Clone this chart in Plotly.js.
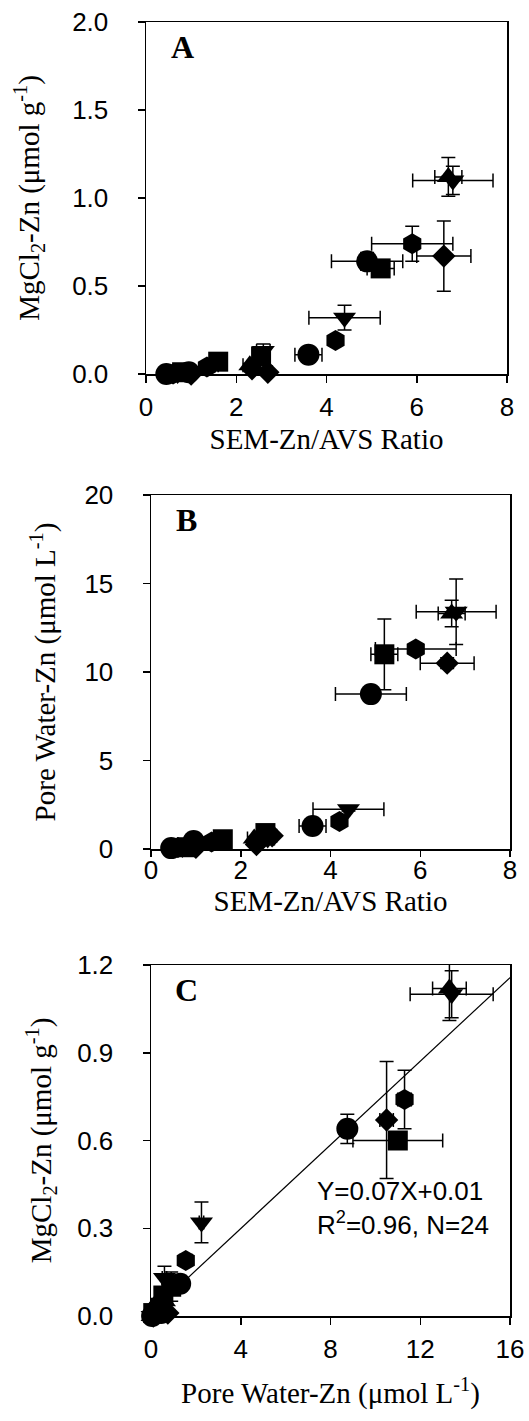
<!DOCTYPE html>
<html><head><meta charset="utf-8">
<script src="https://cdn.plot.ly/plotly-3.0.1.min.js"></script>
<style>html,body{margin:0;padding:0;background:#fff;} #chart{width:529px;height:1421px;}</style>
</head><body><div id="chart"></div>
<script>
// ---- data (one entry per sample, N = 24) ----
const symbolOf = ['circle','circle','circle','circle',
  'hexagon','hexagon','hexagon','hexagon',
  'square','square','square','square',
  'triangle-down','triangle-down','triangle-down','triangle-down',
  'triangle-up','triangle-up','triangle-up','triangle-up',
  'diamond','diamond','diamond','diamond'];
const semAvsRatio    = [0.45,0.95,3.6,4.9,  0.6,1.35,4.2,5.9,  0.8,1.6,2.55,5.2,  0.7,2.6,4.4,6.8,  0.55,1.5,2.3,6.7,  1.0,2.35,2.7,6.6];
const semAvsRatioErr = [0.05,0.08,0.3,0.79, 0.05,0.1,0.1,0.9,  0.05,0.1,0.1,0.3,  0.05,0.15,0.79,0.89, 0.05,0.1,0.15,0.3, 0.05,0.1,0.1,0.6];
const mgcl2Zn        = [0.0,0.01,0.11,0.64, 0.0,0.04,0.19,0.74, 0.01,0.07,0.10,0.60, 0.0,0.13,0.32,1.10, 0.0,0.05,0.05,1.12, 0.0,0.03,0.01,0.67];
const mgcl2ZnErr     = [0.005,0.005,0.01,0.05, 0.005,0.01,0.02,0.10, 0.005,0.02,0.05,0.02, 0.005,0.04,0.07,0.08, 0.005,0.01,0.01,0.11, 0.005,0.01,0.01,0.20];
const poreWaterZn    = [0.05,0.45,1.3,8.75, 0.08,0.4,1.55,11.3, 0.1,0.55,0.9,11.0, 0.05,0.6,2.25,13.4, 0.05,0.3,0.6,13.3, 0.1,0.25,0.75,10.5];
const poreWaterZnErr = [0.02,0.05,0.15,0.3, 0.02,0.05,0.15,0.3, 0.03,0.1,0.1,2.0, 0.02,0.1,0.1,1.85, 0.02,0.05,0.1,0.75, 0.02,0.05,0.1,0.3];
// regression (panel C)
const fitSlope = 0.0715, fitIntercept = 0.013;
const fitXRange = [0, 16];
const fitLabel1 = 'Y=0.07X+0.01';
const fitLabel2 = 'R<sup>2</sup>=0.96, N=24';
// tick values
const ratioTicks = [0,2,4,6,8];
const mgTicksA = [0,0.5,1,1.5,2];
const pwTicksB = [0,5,10,15,20];
const mgTicksC = [0,0.3,0.6,0.9,1.2];
const pwTicksC = [0,4,8,12,16];

// ---- style ----
const sizeBySymbol = {'circle':22,'hexagon':21,'square':20,'triangle-down':20,'triangle-up':20,'diamond':18};
const sizes = symbolOf.map(s => sizeBySymbol[s]);
const SERIF = 'Liberation Serif, Times New Roman, serif';
const SANS = 'Liberation Sans, Arial, sans-serif';
const W = 529, H = 1421;
const px = (a,b) => [a/W, b/W];
const py = (top,bottom) => [(H-bottom)/H, (H-top)/H];

function errBar(arr){ return {type:'data', array:arr, visible:true, color:'#000', thickness:1.5, width:7}; }
function scatter(x, xe, y, ye, xa, ya){
  return {type:'scatter', mode:'markers', x:x, y:y, xaxis:xa, yaxis:ya,
    error_x: errBar(xe), error_y: errBar(ye), cliponaxis:false,
    marker:{symbol:symbolOf, size:sizes, color:'#000', opacity:1, line:{width:0}}, showlegend:false, hoverinfo:'x+y'};
}
const traces = [
  scatter(semAvsRatio, semAvsRatioErr, mgcl2Zn, mgcl2ZnErr, 'x', 'y'),
  scatter(semAvsRatio, semAvsRatioErr, poreWaterZn, poreWaterZnErr, 'x2', 'y2'),
  {type:'scatter', mode:'lines', x:fitXRange, y:fitXRange.map(v => fitSlope*v + fitIntercept), xaxis:'x3', yaxis:'y3',
   line:{color:'#000', width:1.2}, showlegend:false, hoverinfo:'skip', cliponaxis:true},
  scatter(poreWaterZn, poreWaterZnErr, mgcl2Zn, mgcl2ZnErr, 'x3', 'y3')
];

function axis(extra){
  return Object.assign({showgrid:false, zeroline:false, showline:true, linecolor:'#000', linewidth:1.5,
    mirror:true, ticks:'outside', ticklen:7, tickwidth:1.5, tickcolor:'#000',
    tickfont:{family:SANS, size:26, color:'#000'}, fixedrange:true, automargin:false}, extra);
}
const titleFont = {family:SERIF, size:29, color:'#000'};
const yTickExtra = {ticklabelstandoff:24};

const layout = {
  width:W, height:H, margin:{l:0,r:0,t:0,b:0}, paper_bgcolor:'#fff', plot_bgcolor:'#fff', showlegend:false,
  xaxis: axis({domain:px(146,507), range:[0,8], tickvals:ratioTicks, anchor:'y', ticklabelstandoff:2,
    title:{text:'SEM-Zn/AVS Ratio', font:titleFont, standoff:8}}),
  yaxis: axis(Object.assign({domain:py(22,374), range:[0,2], tickvals:mgTicksA, tickformat:'.1f', anchor:'x',
    title:{text:'MgCl<sub>2</sub>-Zn (μmol g<sup>-1</sup>)', font:titleFont, standoff:24}}, yTickExtra)),
  xaxis2: axis({domain:px(151,510), range:[0,8], tickvals:ratioTicks, anchor:'y2', ticklabelstandoff:-9, ticklen:6,
    title:{text:'SEM-Zn/AVS Ratio', font:titleFont, standoff:0}}),
  yaxis2: axis(Object.assign({domain:py(495,849), range:[0,20], tickvals:pwTicksB, anchor:'x2',
    title:{text:'Pore Water-Zn (μmol L<sup>-1</sup>)', font:titleFont, standoff:20}}, yTickExtra)),
  xaxis3: axis({domain:px(151,510), range:[0,16], tickvals:pwTicksC, anchor:'y3', ticklabelstandoff:2,
    title:{text:'Pore Water-Zn (μmol L<sup>-1</sup>)', font:titleFont, standoff:20}}),
  yaxis3: axis(Object.assign({domain:py(965,1316), range:[0,1.2], tickvals:mgTicksC, tickformat:'.1f', anchor:'x3',
    title:{text:'MgCl<sub>2</sub>-Zn (μmol g<sup>-1</sup>)', font:titleFont, standoff:17}}, yTickExtra)),
  annotations: [
    {xref:'x domain', yref:'y domain', x:0.1, y:0.93, text:'<b>A</b>', showarrow:false, xanchor:'center', yanchor:'middle', font:{family:SERIF, size:32, color:'#000'}},
    {xref:'x2 domain', yref:'y2 domain', x:0.1, y:0.93, text:'<b>B</b>', showarrow:false, xanchor:'center', yanchor:'middle', font:{family:SERIF, size:32, color:'#000'}},
    {xref:'x3 domain', yref:'y3 domain', x:0.1, y:0.93, text:'<b>C</b>', showarrow:false, xanchor:'center', yanchor:'middle', font:{family:SERIF, size:32, color:'#000'}},
    {xref:'x3', yref:'y3', x:7.3, y:0.426, text:fitLabel1, showarrow:false, xanchor:'left', yanchor:'middle', font:{family:SANS, size:26, color:'#000'}},
    {xref:'x3', yref:'y3', x:7.3, y:0.315, text:fitLabel2, showarrow:false, xanchor:'left', yanchor:'middle', font:{family:SANS, size:26, color:'#000'}}
  ]
};
Plotly.newPlot('chart', traces, layout, {staticPlot:true, displayModeBar:false});
</script>
</body></html>
